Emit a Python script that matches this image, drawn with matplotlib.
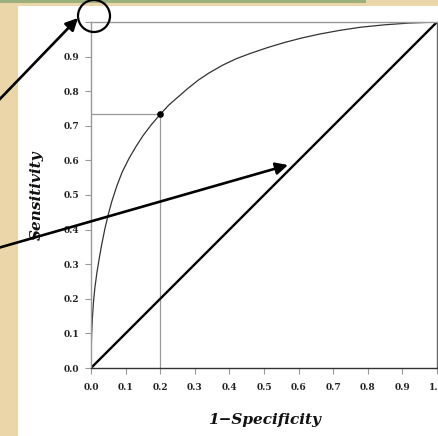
import numpy as np
import matplotlib.pyplot as plt
from matplotlib.patches import Rectangle, Circle

# ROC curve, read point by point
fpr = [0.0, 0.0005, 0.002, 0.004, 0.0075, 0.0116, 0.017, 0.023, 0.03, 0.04,
       0.05, 0.06, 0.075, 0.09, 0.11, 0.13, 0.15, 0.175, 0.2, 0.225,
       0.25, 0.28, 0.31, 0.34, 0.38, 0.42, 0.46, 0.51, 0.56, 0.61,
       0.66, 0.72, 0.78, 0.85, 0.92, 1.0]
tpr = [0.0, 0.049, 0.101, 0.144, 0.195, 0.235, 0.275, 0.312, 0.352, 0.402,
       0.444, 0.481, 0.527, 0.566, 0.606, 0.64, 0.671, 0.704, 0.733, 0.76,
       0.782, 0.808, 0.832, 0.852, 0.875, 0.894, 0.909, 0.926, 0.941, 0.954,
       0.965, 0.976, 0.985, 0.992, 0.997, 1.0]

# operating point
cut_x = 0.2
cut_y = 0.733

ticks = [0.0, 0.1, 0.2, 0.3, 0.4, 0.5, 0.6, 0.7, 0.8, 0.9, 1.0]
xticklabels = ["0.0", "0.1", "0.2", "0.3", "0.4", "0.5", "0.6", "0.7", "0.8", "0.9", "1.0"]
yticklabels = ["0.0", "0.1", "0.2", "0.3", "0.4", "0.5", "0.6", "0.7", "0.8", "0.9", ""]

W, H = 439, 436
fig = plt.figure(figsize=(W / 100, H / 100), dpi=100)
fig.patch.set_facecolor("#ead6a8")

# page background in pixel units
bg = fig.add_axes([0, 0, 1, 1], zorder=0)
bg.set_xlim(0, W)
bg.set_ylim(H, 0)
bg.axis("off")
bg.add_patch(Rectangle((0, 0), 366, 3, color="#9bb07c", lw=0))
bg.add_patch(Rectangle((18, 6), W - 18, H - 6, color="white", lw=0))

ax = fig.add_axes([91 / W, 68 / H, 346 / W, 346 / H], zorder=1)
ax.set_facecolor("none")
ax.set_xlim(0, 1)
ax.set_ylim(0, 1)

ax.plot([0, cut_x], [cut_y, cut_y], color="#9a9a9a", lw=0.9)
ax.plot([cut_x, cut_x], [0, cut_y], color="#9a9a9a", lw=0.9)
ax.plot(fpr, tpr, color="#333333", lw=0.9)
ax.plot([0, 1], [0, 1], color="black", lw=1.7, solid_capstyle="butt")
ax.plot([cut_x], [cut_y], "o", color="black", ms=3.8)

ax.set_xticks(ticks)
ax.set_yticks(ticks)
ax.set_xticklabels(xticklabels)
ax.set_yticklabels(yticklabels)
for lab in ax.get_xticklabels() + ax.get_yticklabels():
    lab.set_family("DejaVu Serif")
    lab.set_fontweight("bold")
    lab.set_fontsize(6.5)
    lab.set_color("#222222")
ax.tick_params(axis="both", length=4.5, width=0.8, color="#999999", pad=4)
ax.tick_params(axis="x", pad=6)

for side in ["left", "top"]:
    ax.spines[side].set_color("#999999")
    ax.spines[side].set_linewidth(1.0)
ax.spines["right"].set_color("#666666")
ax.spines["right"].set_linewidth(1.0)
ax.spines["bottom"].set_color("#333333")
ax.spines["bottom"].set_linewidth(1.0)

ax.set_xlabel("1\u2212Specificity", family="DejaVu Serif", style="italic",
              fontweight="bold", fontsize=11, color="#111111")
ax.set_ylabel("Sensitivity", family="DejaVu Serif", style="italic",
              fontweight="bold", fontsize=11, color="#111111")
ax.xaxis.set_label_coords(0.5, -0.15)
ax.yaxis.set_label_coords(-0.156, 0.5)
ax.xaxis.label.set_va("center")
ax.yaxis.label.set_va("center")

# arrows and circle on top, pixel units
fg = fig.add_axes([0, 0, 1, 1], zorder=2)
fg.set_xlim(0, W)
fg.set_ylim(H, 0)
fg.axis("off")
fg.patch.set_alpha(0)
fg.add_patch(Circle((94, 16), 16, fill=False, ec="black", lw=1.6))
arrow = dict(arrowstyle="-|>", color="black", lw=1.9, mutation_scale=18,
             shrinkA=0, shrinkB=0)
fg.annotate("", xy=(78, 18), xytext=(-2, 101), arrowprops=arrow)
fg.annotate("", xy=(288, 165), xytext=(-2, 248), arrowprops=arrow)

fig.savefig("out.png", dpi=100, facecolor=fig.get_facecolor())
